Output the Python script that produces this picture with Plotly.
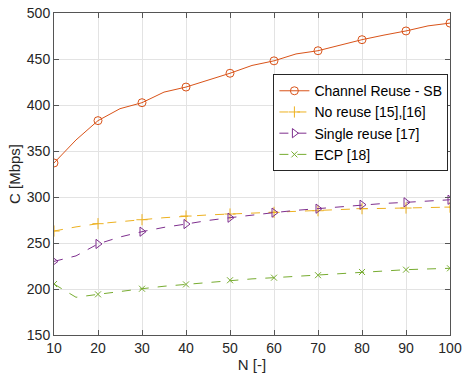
import plotly.graph_objects as go

N_fine = [10, 15, 20, 25, 30, 35, 40, 45, 50, 55, 60, 65, 70, 75, 80, 85, 90, 95, 100]
N_marks = [10, 20, 30, 40, 50, 60, 70, 80, 90, 100]

channel_reuse = [337, 362, 383, 396, 402.5, 414, 419.5, 427, 434.5, 443, 448, 455.5, 459, 465, 471, 476, 480.5, 486, 489]
no_reuse = [263, 267.5, 271, 273.5, 275.3, 277.5, 279.3, 280.5, 281.5, 282.5, 283.3, 284.3, 285.1, 286.3, 287.3, 287.6, 288, 288.5, 289]
single_reuse = [230, 236, 249, 256.5, 262.3, 267, 270.6, 274.5, 277.5, 280.5, 283, 285.5, 287.3, 289.5, 291.6, 293, 294.2, 295.8, 297]
ecp = [205.4, 191, 194.2, 197.5, 200.3, 203, 205, 207.5, 209.5, 211, 212.3, 213.8, 215, 216.8, 218.5, 219.8, 221, 221.8, 222.5]

names = ["Channel Reuse - SB", "No reuse [15],[16]", "Single reuse [17]", "ECP [18]"]
series = [channel_reuse, no_reuse, single_reuse, ecp]
colors = ["#D95319", "#EDB120", "#7E2F8E", "#77AC30"]
dashes = ["solid", "dash", "dash", "dash"]
symbols = ["circle-open", "cross-thin-open", "triangle-right-open", "x-thin-open"]
sizes = [8, 8, 8, 6]

fig = go.Figure()
for name, ys, c, d, s, sz in zip(names, series, colors, dashes, symbols, sizes):
    fig.add_trace(go.Scatter(x=N_fine, y=ys, mode="lines", line=dict(color=c, width=1, dash=d),
                             showlegend=False, hoverinfo="skip"))
    mark_y = [y for x, y in zip(N_fine, ys) if x in N_marks]
    fig.add_trace(go.Scatter(x=N_marks, y=mark_y, mode="markers",
                             marker=dict(symbol=s, size=sz, color=c, line=dict(color=c, width=1)),
                             showlegend=False))
    fig.add_trace(go.Scatter(x=[None], y=[None], mode="lines+markers", name=name,
                             line=dict(color=c, width=1, dash=d),
                             marker=dict(symbol=s, size=sz, color=c, line=dict(color=c, width=1))))

axis_common = dict(showgrid=True, gridcolor="#e3e3e3", gridwidth=1, showline=True, linecolor="#555555",
                   linewidth=1, mirror="ticks", ticks="inside", ticklen=5, tickcolor="#555555",
                   zeroline=False, automargin=False, ticklabeloverflow="allow",
                   tickfont=dict(size=14, color="#262626"))

fig.update_layout(
    width=462, height=377,
    margin=dict(l=54, r=12, t=13, b=42),
    paper_bgcolor="white", plot_bgcolor="white",
    font=dict(family="Liberation Sans, Arial, sans-serif", color="#262626"),
    xaxis=dict(range=[10, 100], tickvals=N_marks,
               title=dict(text="N [-]", font=dict(size=15), standoff=2), **axis_common),
    yaxis=dict(range=[150, 500], tickvals=[150, 200, 250, 300, 350, 400, 450, 500],
               title=dict(text="C [Mbps]", font=dict(size=15), standoff=2), **axis_common),
    legend=dict(x=0.775, y=0.81, xanchor="center", yanchor="top", bgcolor="white",
                bordercolor="#262626", borderwidth=1, font=dict(size=14, color="#000000"),
                itemwidth=30, tracegroupgap=0),
)

fig.write_html("out.html", config={"displayModeBar": False},
               post_script="document.body.style.margin='0';document.body.style.overflow='hidden';")
